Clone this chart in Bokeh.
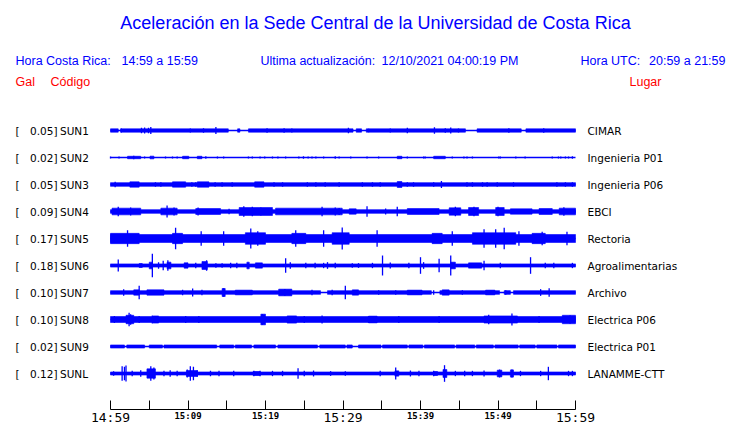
from bokeh.plotting import figure
from bokeh.models import Range1d, LinearAxis, FixedTicker, Label, LabelSet, ColumnDataSource
from bokeh.core.properties import value
from bokeh.embed import file_html
from bokeh.resources import INLINE

# ---------------- data ----------------
codes = ["SUN1", "SUN2", "SUN3", "SUN4", "SUN5", "SUN6", "SUN7", "SUN8", "SUN9", "SUNL"]
peak_gal = [0.05, 0.02, 0.05, 0.09, 0.17, 0.18, 0.10, 0.10, 0.02, 0.12]
places = ["CIMAR", "Ingenieria P01", "Ingenieria P06", "EBCI", "Rectoria",
          "Agroalimentarias", "Archivo", "Electrica P06", "Electrica P01", "LANAMME-CTT"]
# background noise half-amplitude of each trace (Gal)
base_gal = [0.019, 0.0, 0.022, 0.022, 0.056, 0.018, 0.022, 0.040, 0.017, 0.017]

# minutes after 14:59 where the trace is quiet (only the thin line)
sun1_gaps = [(1.0, 1.3), (15.2, 16.4), (16.7, 17.8), (31.3, 31.7), (32.4, 33.0), (45.8, 47.3), (53.0, 53.6)]
sun7_gaps = [(27.1, 28.0), (41.4, 42.5), (50.2, 50.8), (51.6, 52.0)]
sun9_gaps = [(1.8, 2.1), (4.4, 5.0), (6.7, 6.9), (13.7, 14.1), (15.9, 16.1), (18.2, 18.5), (21.3, 21.6),
             (26.7, 27.0), (30.3, 30.5), (31.2, 32.0), (34.9, 35.1), (38.3, 38.5), (40.3, 40.5),
             (44.4, 44.6), (47.0, 47.2), (49.4, 49.6), (52.6, 52.8), (54.8, 55.0), (57.6, 57.8)]

# bursts: (start minute, end minute, half-amplitude Gal)
sun1_bursts = []
sun2_bursts = [(2.2, 3.9, 0.012), (5.1, 5.6, 0.014), (9.3, 10.1, 0.012), (11.2, 11.8, 0.012),
               (37.0, 37.6, 0.012), (41.7, 43.2, 0.012)]
sun3_bursts = [(2.5, 3.7, 0.035), (8.0, 9.7, 0.035), (11.2, 12.7, 0.035), (18.6, 19.8, 0.035), (37.0, 37.6, 0.04)]
sun4_bursts = [(0.2, 3.9, 0.046), (6.5, 8.6, 0.046), (11.0, 14.2, 0.04), (16.6, 20.9, 0.056), (21.3, 29.9, 0.046),
               (30.8, 31.7, 0.035), (38.3, 42.4, 0.04), (43.7, 45.2, 0.051), (46.2, 47.5, 0.056),
               (49.7, 50.8, 0.056), (51.6, 54.4, 0.035), (55.3, 57.0, 0.04), (57.9, 60.0, 0.046)]
sun5_bursts = [(0.0, 3.7, 0.075), (8.0, 9.3, 0.075), (17.4, 20.0, 0.085), (23.4, 25.2, 0.075),
               (28.6, 30.8, 0.085), (41.5, 42.8, 0.075), (46.7, 52.3, 0.085), (54.4, 56.1, 0.075)]
sun6_bursts = [(3.7, 4.1, 0.024), (5.0, 5.4, 0.046), (7.3, 7.8, 0.046), (9.5, 10.0, 0.035), (11.8, 12.5, 0.056),
               (17.6, 17.9, 0.046), (18.7, 19.6, 0.035), (43.9, 44.5, 0.046), (46.2, 47.9, 0.035)]
sun7_bursts = [(3.0, 3.7, 0.035), (4.7, 6.9, 0.035), (14.4, 14.8, 0.056), (16.1, 18.3, 0.03), (21.7, 23.4, 0.046),
               (31.2, 32.0, 0.035), (38.3, 40.2, 0.03), (42.8, 43.7, 0.035), (48.4, 49.6, 0.03)]
sun8_bursts = [(2.0, 3.0, 0.06), (5.5, 6.2, 0.05), (19.4, 20.0, 0.078), (22.8, 24.0, 0.05), (33.3, 34.4, 0.046),
               (48.2, 52.5, 0.05), (58.3, 60.0, 0.06)]
sun9_bursts = []
sunl_bursts = [(4.7, 5.8, 0.067), (9.8, 11.2, 0.04), (18.4, 19.3, 0.024), (36.7, 37.2, 0.035), (41.7, 42.2, 0.024),
               (42.9, 43.4, 0.056), (49.9, 50.5, 0.046), (51.6, 52.0, 0.05)]

# spikes: (minute, half-amplitude Gal)
sun1_peaks = [(1.4, 0.024), (4.0, 0.035), (4.4, 0.04), (4.9, 0.035), (5.2, 0.05), (10.3, 0.024), (12.0, 0.03),
              (13.6, 0.05), (20.2, 0.03), (22.4, 0.03), (23.4, 0.024), (30.7, 0.035), (33.3, 0.022),
              (36.1, 0.024), (38.3, 0.035), (41.8, 0.045), (43.2, 0.03), (43.9, 0.04), (44.9, 0.024),
              (51.4, 0.03), (55.9, 0.03)]
sun2_peaks = [(0.0, 0.01), (1.1, 0.01), (3.0, 0.02), (4.4, 0.01), (7.1, 0.01), (8.0, 0.01), (8.6, 0.01),
              (12.3, 0.012), (13.8, 0.01), (14.6, 0.01), (17.8, 0.01), (18.3, 0.01), (19.3, 0.01), (19.9, 0.01),
              (20.9, 0.01), (21.6, 0.01), (22.6, 0.01), (24.3, 0.01), (24.9, 0.012), (25.5, 0.01), (26.0, 0.01),
              (26.5, 0.01), (27.5, 0.01), (29.0, 0.012), (29.5, 0.01), (31.0, 0.01), (33.1, 0.01), (34.6, 0.01),
              (38.3, 0.01), (40.4, 0.01), (40.6, 0.01), (44.1, 0.01), (45.6, 0.01), (46.0, 0.01), (46.7, 0.01),
              (50.1, 0.01), (50.3, 0.01), (52.3, 0.01), (53.5, 0.01), (57.0, 0.01), (57.8, 0.01), (58.1, 0.01),
              (58.7, 0.01), (59.1, 0.01), (59.6, 0.012)]
sun3_peaks = [(0.6, 0.035), (5.8, 0.03), (6.5, 0.03), (10.5, 0.03), (11.0, 0.03), (13.5, 0.03), (14.4, 0.03),
              (15.7, 0.03), (21.1, 0.03), (22.2, 0.03), (25.4, 0.03), (26.5, 0.03), (27.7, 0.03), (29.5, 0.03),
              (32.5, 0.03), (33.8, 0.03), (34.8, 0.03), (38.3, 0.03), (39.1, 0.03), (41.7, 0.03), (42.7, 0.05),
              (46.0, 0.03), (46.7, 0.03), (48.0, 0.03), (48.6, 0.03), (49.9, 0.03), (52.0, 0.03), (57.6, 0.03),
              (58.7, 0.03), (59.6, 0.03)]
sun4_peaks = [(1.0, 0.067), (2.6, 0.056), (7.3, 0.09), (8.2, 0.056), (11.3, 0.056), (15.3, 0.035), (17.2, 0.078),
              (18.3, 0.067), (19.4, 0.056), (20.4, 0.05), (27.3, 0.067), (29.0, 0.056), (29.5, 0.05),
              (33.1, 0.078), (35.5, 0.04), (37.0, 0.067), (44.5, 0.067), (46.9, 0.067), (50.0, 0.067), (58.5, 0.06)]
sun5_peaks = [(2.2, 0.126), (8.4, 0.164), (11.7, 0.11), (14.6, 0.11), (18.1, 0.153), (19.0, 0.11), (23.9, 0.126),
              (27.5, 0.126), (29.9, 0.17), (34.4, 0.126), (44.1, 0.11), (48.2, 0.142), (49.7, 0.142),
              (50.8, 0.164), (52.7, 0.11), (55.7, 0.10), (58.9, 0.10)]
sun6_peaks = [(1.0, 0.09), (5.4, 0.18), (6.2, 0.046), (6.8, 0.067), (7.4, 0.078), (11.0, 0.035), (12.4, 0.078),
              (13.6, 0.03), (14.4, 0.03), (15.5, 0.035), (16.3, 0.035), (22.6, 0.11), (23.2, 0.046), (25.2, 0.035),
              (26.4, 0.035), (27.5, 0.035), (28.0, 0.046), (29.0, 0.035), (31.2, 0.03), (32.0, 0.03),
              (33.8, 0.035), (35.1, 0.153), (36.1, 0.04), (38.5, 0.035), (40.0, 0.126), (40.4, 0.046),
              (42.4, 0.10), (43.9, 0.153), (48.2, 0.067), (50.3, 0.035), (54.2, 0.126), (56.1, 0.035),
              (57.2, 0.035), (59.6, 0.035)]
sun7_peaks = [(1.7, 0.046), (3.7, 0.10), (9.3, 0.035), (10.6, 0.056), (11.8, 0.035), (14.6, 0.06), (22.5, 0.05),
              (26.0, 0.035), (28.6, 0.035), (30.3, 0.10), (34.6, 0.03), (36.8, 0.03), (41.7, 0.03), (45.4, 0.03),
              (51.0, 0.03), (55.5, 0.046), (56.6, 0.06)]
sun8_peaks = [(0.5, 0.05), (2.4, 0.10), (2.6, 0.078), (3.7, 0.05), (5.4, 0.056), (9.7, 0.05), (11.4, 0.05),
              (19.6, 0.08), (25.0, 0.05), (27.3, 0.056), (33.3, 0.046), (37.2, 0.05), (42.4, 0.05), (48.8, 0.067),
              (49.9, 0.05), (51.8, 0.089), (55.3, 0.05), (59.3, 0.06)]
sun9_peaks = []
sunl_peaks = [(0.4, 0.03), (1.5, 0.11), (1.8, 0.10), (2.0, 0.12), (2.8, 0.035), (3.9, 0.046), (5.2, 0.11),
              (5.6, 0.089), (6.9, 0.035), (7.7, 0.046), (8.6, 0.035), (9.9, 0.056), (10.3, 0.11), (10.7, 0.10),
              (11.2, 0.046), (12.9, 0.035), (14.0, 0.035), (15.9, 0.035), (18.5, 0.035), (19.3, 0.035),
              (20.9, 0.035), (22.2, 0.035), (24.2, 0.078), (25.0, 0.035), (26.2, 0.04), (28.4, 0.03),
              (30.3, 0.03), (34.8, 0.035), (36.8, 0.09), (38.7, 0.04), (39.8, 0.035), (41.7, 0.035),
              (43.1, 0.126), (44.5, 0.035), (45.7, 0.035), (46.7, 0.035), (48.2, 0.04), (50.2, 0.056),
              (51.8, 0.056), (52.9, 0.035), (55.5, 0.035), (56.5, 0.10), (59.1, 0.035), (59.6, 0.035)]

tick_minutes = [0, 5, 10, 15, 20, 25, 30, 35, 40, 45, 50, 55, 60]
big_tick_minutes = [0, 30, 60]
big_tick_labels = ["14:59", "15:29", "15:59"]
small_tick_minutes = [10, 20, 40, 50]
small_tick_labels = ["15:09", "15:19", "15:39", "15:49"]

gaps_all = [sun1_gaps, [], [], [], [], [], sun7_gaps, [], sun9_gaps, []]
bursts_all = [sun1_bursts, sun2_bursts, sun3_bursts, sun4_bursts, sun5_bursts,
              sun6_bursts, sun7_bursts, sun8_bursts, sun9_bursts, sunl_bursts]
peaks_all = [sun1_peaks, sun2_peaks, sun3_peaks, sun4_peaks, sun5_peaks,
             sun6_peaks, sun7_peaks, sun8_peaks, sun9_peaks, sunl_peaks]

# ---------------- layout (canvas pixels) ----------------
W, H = 740, 423
X0, X1 = 110, 575          # px of 14:59 and 15:59
PPM = (X1 - X0) / 60.0
ROW0, ROWH = 130, 27       # y of first trace, row spacing
AXIS_Y = 409               # y of time axis line
PX_PER_GAL = 62.0
BLUE = "#0000ff"
RED = "#ff0000"


def mx(px):
    return (px - X0) / PPM


def ry(py):
    return (py - ROW0) / ROWH


def half(a):
    return (0.5 + PX_PER_GAL * a) / ROWH


p = figure(width=W, height=H, output_backend="svg", toolbar_location=None,
           x_range=Range1d(mx(0), mx(W)), y_range=Range1d(ry(H), ry(0)),
           x_axis_type=None, y_axis_type=None,
           min_border_left=0, min_border_right=0, min_border_top=0, min_border_bottom=0)
p.outline_line_color = None
p.grid.visible = False

# traces
ql, qr, qt, qb = [], [], [], []
sx, sy0, sy1 = [], [], []
for i in range(len(codes)):
    if base_gal[i] > 0:
        start = 0.0
        for g0, g1 in gaps_all[i] + [(60.0, 60.0)]:
            if g0 > start:
                ql.append(start); qr.append(g0)
                qt.append(i - half(base_gal[i])); qb.append(i + half(base_gal[i]))
            start = g1
    for b0, b1, a in bursts_all[i]:
        ql.append(b0); qr.append(b1)
        qt.append(i - half(a)); qb.append(i + half(a))
    for t, a in peaks_all[i]:
        sx.append(t); sy0.append(i - half(a)); sy1.append(i + half(a))

rows = list(range(len(codes)))
p.segment(x0=[0] * len(rows), x1=[60] * len(rows), y0=rows, y1=rows, line_color=BLUE, line_width=1.3)
p.quad(left=ql, right=qr, top=qt, bottom=qb, fill_color=BLUE, line_color=BLUE, line_width=0.6)
p.segment(x0=sx, x1=sx, y0=sy0, y1=sy1, line_color=BLUE, line_width=1.3)

# time axis, fixed inside the frame
ax = LinearAxis(ticker=FixedTicker(ticks=tick_minutes, minor_ticks=[]), bounds=(0, 60),
                fixed_location=ry(AXIS_Y),
                major_tick_in=9, major_tick_out=0, major_label_standoff=0,
                major_label_text_font_size="1px", major_label_text_alpha=0,
                axis_line_color="black", major_tick_line_color="black")
p.add_layout(ax, "below")

big_src = ColumnDataSource(dict(x=big_tick_minutes, y=[ry(421)] * 3, t=big_tick_labels))
p.add_layout(LabelSet(x="x", y="y", text="t", source=big_src, text_align="center",
                      text_baseline="alphabetic", text_font=value("DejaVu Sans Mono"),
                      text_font_size="13px", text_color="black"))
small_src = ColumnDataSource(dict(x=small_tick_minutes, y=[ry(418.5)] * 4, t=small_tick_labels))
p.add_layout(LabelSet(x="x", y="y", text="t", source=small_src, text_align="center",
                      text_baseline="alphabetic", text_font=value("DejaVu Sans Mono"),
                      text_font_size="9px", text_font_style="bold", text_color="black"))

# trace labels
lab_src = ColumnDataSource(dict(
    y=rows,
    br=["["] * len(rows),
    val=["%.2f]" % v for v in peak_gal],
    code=codes,
    place=places,
))
common = dict(source=lab_src, y="y", text_baseline="middle", text_font=value("DejaVu Sans"),
              text_font_size="10.5px", text_color="black")
p.add_layout(LabelSet(x=mx(15), text="br", text_align="left", **common))
p.add_layout(LabelSet(x=mx(57), text="val", text_align="right", **common))
p.add_layout(LabelSet(x=mx(59.5), text="code", text_align="left", **common))
p.add_layout(LabelSet(x=mx(587), text="place", text_align="left", **common))


def txt(s, px, py, color, size, align="left"):
    p.add_layout(Label(x=mx(px), y=ry(py), text=s, text_align=align, text_baseline="middle",
                       text_font="Liberation Sans", text_font_size=size, text_color=color))


txt("Aceleración en la Sede Central de la Universidad de Costa Rica", 375, 22, BLUE, "18px", "center")
txt("Hora Costa Rica:", 15, 60, BLUE, "12.5px")
txt("14:59 a 15:59", 121, 60, BLUE, "12.5px")
txt("Ultima actualización:", 260, 60, BLUE, "12.5px")
txt("12/10/2021 04:00:19 PM", 381, 60, BLUE, "12.5px")
txt("Hora UTC:", 580, 60, BLUE, "12.5px")
txt("20:59 a 21:59", 725, 60, BLUE, "12.5px", "right")
txt("Gal", 15, 81, RED, "12.5px")
txt("Código", 50, 81, RED, "12.5px")
txt("Lugar", 629, 81, RED, "12.5px")

open("out.html", "w").write(file_html(p, INLINE))
